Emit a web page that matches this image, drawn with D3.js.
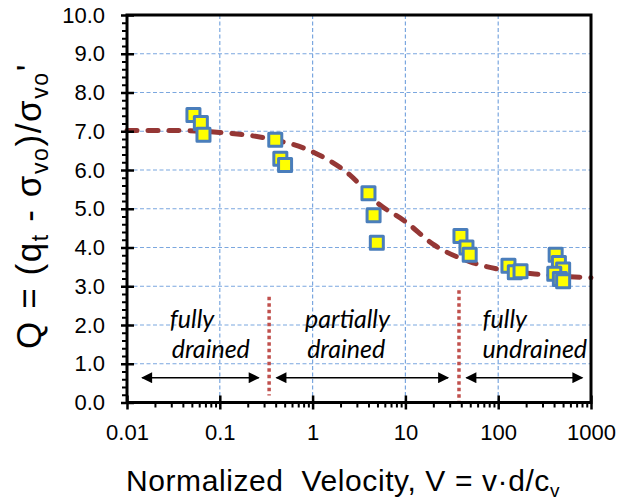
<!DOCTYPE html>
<html><head><meta charset="utf-8">
<script src="https://cdn.jsdelivr.net/npm/d3@7/dist/d3.min.js"></script>
<style>body{margin:0;background:#fff}svg{display:block}</style>
</head><body>
<svg id="c" width="636" height="504"></svg>
<script>
// ---- data ----
const xTicks = [0.01, 0.1, 1, 10, 100, 1000];
const xTickLabels = ["0.01", "0.1", "1", "10", "100", "1000"];
const yTicks = [0, 1, 2, 3, 4, 5, 6, 7, 8, 9, 10];
const yTickLabels = ["0.0","1.0","2.0","3.0","4.0","5.0","6.0","7.0","8.0","9.0","10.0"];

const pointV = [0.052, 0.0625, 0.0667, 0.396, 0.449, 0.505, 4.0, 4.54, 4.92, 39.2, 45.5, 49.3, 129, 151, 174, 416, 451, 501, 402, 462, 501];
const pointQ = [7.42, 7.21, 6.91, 6.78, 6.29, 6.13, 5.40, 4.83, 4.12, 4.30, 4.00, 3.81, 3.53, 3.36, 3.39, 3.81, 3.60, 3.43, 3.32, 3.19, 3.13];

const trendV = [0.01, 0.03, 0.1, 0.3, 1, 2.5, 5, 10, 20, 50, 100, 300, 1000];
const trendQ = [7.02, 7.02, 6.97, 6.83, 6.47, 5.88, 5.15, 4.67, 4.08, 3.63, 3.44, 3.30, 3.22];

const boundaryV = [0.34, 37.8];
const boundaryQtop = [2.73, 2.9];
const boundaryQbot = [0.18, 0.0];

const arrowV0 = [0.0146, 0.409, 45.5];
const arrowV1 = [0.262, 28.8, 805];
const arrowQ = 0.64;

const labelText = ["fully", "drained", "partially", "drained", "fully", "undrained"];
const labelV = [0.0503, 0.080, 2.38, 2.30, 118, 248];
const labelQ = [1.93, 1.16, 1.93, 1.16, 1.93, 1.16];

// ---- layout ----
const L = 127, R = 591, T = 15, B = 402.5;
const svg = d3.select("#c");
const x = d3.scaleLog().domain([0.01, 1000]).range([L, R]);
const y = d3.scaleLinear().domain([0, 10]).range([B, T]);

// grid
const grid = svg.append("g").attr("stroke", "#7BA7DF").attr("stroke-width", 1.2).attr("stroke-dasharray", "4,2.5");
grid.selectAll("line.h").data(yTicks.slice(1, -1)).join("line")
  .attr("x1", L).attr("x2", R).attr("y1", d => y(d)).attr("y2", d => y(d));
grid.selectAll("line.v").data(xTicks.slice(1, -1)).join("line")
  .attr("y1", T).attr("y2", B).attr("x1", d => x(d)).attr("x2", d => x(d));

// trend curve
const trend = trendV.map((v, i) => [v, trendQ[i]]);
svg.append("path").datum(trend)
  .attr("d", d3.line().x(d => x(d[0])).y(d => y(d[1])).curve(d3.curveMonotoneX))
  .attr("fill", "none").attr("stroke", "#953735").attr("stroke-width", 5)
  .attr("stroke-linecap", "round").attr("stroke-dasharray", "10,11");

// boundary dotted lines
svg.append("g").selectAll("line").data(boundaryV).join("line")
  .attr("x1", d => x(d)).attr("x2", d => x(d))
  .attr("y1", (d, i) => y(boundaryQtop[i])).attr("y2", (d, i) => y(boundaryQbot[i]))
  .attr("stroke", "#C0504D").attr("stroke-width", 3.5).attr("stroke-dasharray", "3.5,3");

// arrows
const defs = svg.append("defs");
defs.append("marker").attr("id", "ah").attr("viewBox", "0 0 10 10").attr("refX", 9).attr("refY", 5)
  .attr("markerWidth", 13).attr("markerHeight", 11).attr("markerUnits", "userSpaceOnUse")
  .attr("orient", "auto-start-reverse")
  .append("path").attr("d", "M0,0 L10,5 L0,10 Z").attr("fill", "#000");
svg.append("g").selectAll("line").data(arrowV0).join("line")
  .attr("x1", d => x(d)).attr("x2", (d, i) => x(arrowV1[i]))
  .attr("y1", y(arrowQ)).attr("y2", y(arrowQ))
  .attr("stroke", "#000").attr("stroke-width", 1.5)
  .attr("marker-start", "url(#ah)").attr("marker-end", "url(#ah)");

// region labels
svg.append("g").selectAll("text").data(labelText).join("text")
  .attr("x", (d, i) => x(labelV[i])).attr("y", (d, i) => y(labelQ[i]))
  .attr("text-anchor", "middle").attr("font-family", "Lato, 'Open Sans', sans-serif")
  .attr("font-style", "italic").attr("font-size", 25).attr("fill", "#000")
  .text(d => d);

// data points
svg.append("g").selectAll("rect").data(pointV).join("rect")
  .attr("x", d => x(d) - 6.5).attr("y", (d, i) => y(pointQ[i]) - 6.5)
  .attr("width", 13).attr("height", 13)
  .attr("fill", "#FFFF00").attr("stroke", "#4A7EBB").attr("stroke-width", 3)
  .attr("stroke-linejoin", "round");

// frame
svg.append("rect").attr("x", L).attr("y", T).attr("width", R - L).attr("height", B - T)
  .attr("fill", "none").attr("stroke", "#000").attr("stroke-width", 3);

// axes
const font = "'Liberation Sans', Arial, sans-serif";
const xMinor = [];
[0.01, 0.1, 1, 10, 100].forEach(dec => [2,3,4,5,6,7,8,9].forEach(k => xMinor.push(dec * k)));
svg.append("g").attr("transform", `translate(0,${B})`)
  .call(d3.axisBottom(x).tickValues(xMinor).tickFormat("").tickSizeInner(5).tickSizeOuter(0))
  .call(g => g.select(".domain").remove())
  .selectAll("line").attr("stroke-width", 2);
const xa = svg.append("g").attr("transform", `translate(0,${B})`)
  .call(d3.axisBottom(x).tickValues(xTicks).tickFormat((d, i) => xTickLabels[i]).tickSizeInner(7).tickSizeOuter(0).tickPadding(15));
xa.select(".domain").remove();
xa.selectAll("line").attr("y1", -7).attr("stroke-width", 2.5);
xa.selectAll("text").attr("font-family", font).attr("font-size", 22).attr("fill", "#000");

const yMinor = d3.range(0, 10.01, 0.2).filter(v => Math.abs(v - Math.round(v)) > 0.01);
svg.append("g").attr("transform", `translate(${L},0)`)
  .call(d3.axisLeft(y).tickValues(yMinor).tickFormat("").tickSizeInner(5).tickSizeOuter(0))
  .call(g => g.select(".domain").remove())
  .selectAll("line").attr("stroke-width", 2);
const ya = svg.append("g").attr("transform", `translate(${L},0)`)
  .call(d3.axisLeft(y).tickValues(yTicks).tickFormat((d, i) => yTickLabels[i]).tickSizeInner(6).tickSizeOuter(0).tickPadding(16));
ya.select(".domain").remove();
ya.selectAll("line").attr("x1", 7).attr("stroke-width", 2.5);
ya.selectAll("text").attr("font-family", font).attr("font-size", 22).attr("fill", "#000");

// axis titles
const xt = svg.append("text").attr("x", 343).attr("y", 491).attr("text-anchor", "middle")
  .attr("font-family", font).attr("font-size", 30).attr("fill", "#000")
  .style("white-space", "pre").attr("letter-spacing", 0.6);
xt.append("tspan").text("Normalized  Velocity, V = v·d/c");
xt.append("tspan").attr("font-size", 19).attr("dy", 6).text("v");

const yt = svg.append("text").attr("transform", "translate(41,206) rotate(-90)").attr("text-anchor", "middle")
  .attr("font-family", font).attr("font-size", 35).attr("fill", "#000").style("white-space", "pre")
  .attr("letter-spacing", 1.6);
yt.append("tspan").text("Q = (q");
yt.append("tspan").attr("font-size", 23).attr("dy", 7).text("t");
yt.append("tspan").attr("dy", -7).text(" - σ");
yt.append("tspan").attr("font-size", 23).attr("dy", 7).text("vo");
yt.append("tspan").attr("dy", -7).text(")/σ");
yt.append("tspan").attr("font-size", 23).attr("dy", 7).text("vo");
yt.append("tspan").attr("dy", -7).text("'");
</script>
</body></html>
